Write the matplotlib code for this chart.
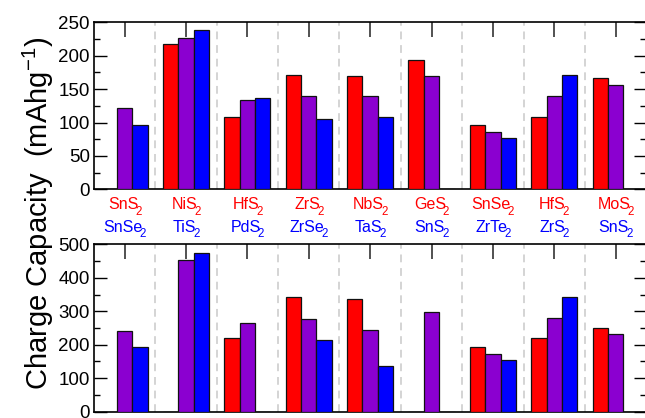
import numpy as np
import matplotlib
matplotlib.use('Agg')
import matplotlib.pyplot as plt
from matplotlib.ticker import MultipleLocator
from matplotlib.transforms import blended_transform_factory, offset_copy

plt.rcParams['font.family'] = ['Liberation Sans', 'DejaVu Sans']
plt.rcParams['mathtext.fontset'] = 'custom'
plt.rcParams['mathtext.rm'] = 'Liberation Sans'
plt.rcParams['mathtext.it'] = 'Liberation Sans:italic'

# pairs: red compound on top, blue compound underneath (subscript after '_')
top_names = ['SnS_2', 'NiS_2', 'HfS_2', 'ZrS_2', 'NbS_2',
             'GeS_2', 'SnSe_2', 'HfS_2', 'MoS_2']
bot_names = ['SnSe_2', 'TiS_2', 'PdS_2', 'ZrSe_2', 'TaS_2',
             'SnS_2', 'ZrTe_2', 'ZrS_2', 'SnS_2']

# upper panel (mAh/g)
up_red = [0, 217, 109, 171, 169, 194, 96, 109, 166]
up_mix = [121, 227, 133, 139, 139, 170, 86, 140, 156]
up_blue = [96, 238, 136, 106, 108, 0, 77, 171, 0]

# lower panel (mAh/g)
lo_red = [0, 0, 219, 342, 338, 0, 193, 219, 249]
lo_mix = [241, 453, 265, 277, 243, 297, 172, 280, 232]
lo_blue = [193, 474, 0, 213, 136, 0, 154, 342, 0]

colors = ['#ff0000', '#8b00d0', '#0000ff']

fig = plt.figure(figsize=(6.45, 4.18), dpi=100)
ax1 = fig.add_axes([0.1457, 0.5471, 0.8563, 0.3995])
ax2 = fig.add_axes([0.1457, 0.0151, 0.8563, 0.4005])

x = np.arange(len(top_names))
w = 0.25

def draw(ax, series, ymax, major, minor):
    for k, (vals, c) in enumerate(zip(series, colors)):
        ax.bar(x + (k - 1) * w, vals, w, color=c, edgecolor='#111111',
               linewidth=0.9, zorder=3)
    for b in np.arange(0.5, len(x) - 0.5, 1.0):
        ax.axvline(b, color='#d4d4d4', lw=1.4, ls=(0, (4, 3)), zorder=1)
    ax.set_xlim(-0.5, len(x) - 0.5)
    ax.set_ylim(0, ymax)
    ax.set_xticks(x)
    ax.set_xticklabels([])
    ax.yaxis.set_major_locator(MultipleLocator(major))
    ax.yaxis.set_minor_locator(MultipleLocator(minor))
    ax.tick_params(axis='x', direction='in', length=11, width=1.2,
                   top=True, bottom=True, color='#333333')
    ax.tick_params(axis='y', which='major', direction='in', length=9,
                   width=1.0, left=True, right=True, labelsize=13.5, pad=3)
    ax.tick_params(axis='y', which='minor', direction='in', length=4,
                   width=1.0, left=True, right=True)
    for s in ax.spines.values():
        s.set_linewidth(1.2)

draw(ax1, [up_red, up_mix, up_blue], 250, 50, 25)
draw(ax2, [lo_red, lo_mix, lo_blue], 500, 100, 50)

# formula labels: body + lowered small subscript, centred as one piece
tr = blended_transform_factory(ax1.transData, ax1.transAxes)
renderer = fig.canvas.get_renderer()

def formula(xc, y, name, color):
    body, sub = name.split('_')
    t1 = ax1.text(xc, y, body, color=color, fontsize=11.5,
                  ha='left', va='baseline', transform=tr)
    t2 = ax1.text(xc, y, sub, color=color, fontsize=8.3,
                  ha='left', va='baseline', transform=tr)
    w1 = t1.get_window_extent(renderer).width
    w2 = t2.get_window_extent(renderer).width
    x0 = -(w1 + w2 - 3) / 2
    t1.set_transform(offset_copy(tr, fig=fig, x=x0, y=0, units='dots'))
    t2.set_transform(offset_copy(tr, fig=fig, x=x0 + w1 - 3, y=-5.5,
                                 units='dots'))

for i in x:
    formula(i, -0.118, top_names[i], '#ff0000')
    formula(i, -0.254, bot_names[i], '#0000ff')

fig.text(0.059, 0.49, 'Charge Capacity  (mAhg$^{-1}$)', rotation=90,
         ha='center', va='center', fontsize=21)

fig.savefig('out.png', dpi=100)
